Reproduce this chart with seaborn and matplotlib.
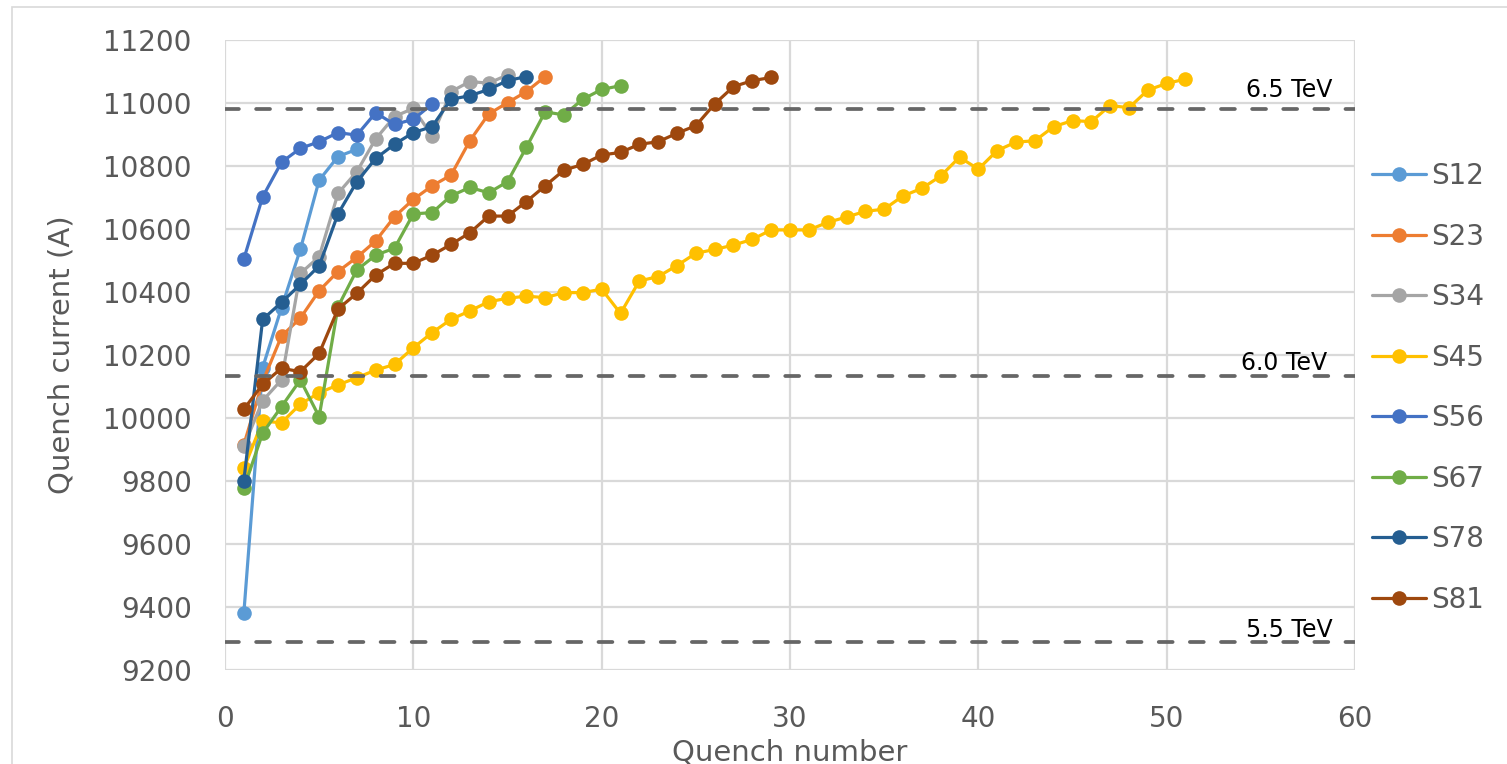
import matplotlib
matplotlib.use("Agg")
import matplotlib.pyplot as plt
from matplotlib.lines import Line2D
from matplotlib.patches import Rectangle
import seaborn as sns
import pandas as pd

# ---------------- data ----------------
sectors = ["S12", "S23", "S34", "S45", "S56", "S67", "S78", "S81"]
S12 = [9380, 10160, 10350, 10535, 10755, 10830, 10853]
S23 = [9915, 10115, 10260, 10317, 10404, 10465, 10510, 10562, 10639, 10694, 10737,
       10771, 10880, 10965, 11001, 11036, 11084]
S34 = [9910, 10055, 10121, 10459, 10512, 10713, 10782, 10886, 10957, 10983, 10895,
       11036, 11068, 11063, 11089]
S45 = [9840, 9990, 9985, 10044, 10080, 10105, 10128, 10152, 10170, 10223, 10271,
       10313, 10340, 10369, 10380, 10387, 10382, 10398, 10398, 10409, 10332, 10435,
       10449, 10484, 10523, 10535, 10549, 10567, 10597, 10597, 10597, 10621, 10638,
       10656, 10663, 10705, 10729, 10768, 10828, 10790, 10849, 10876, 10880, 10925,
       10944, 10941, 10992, 10985, 11041, 11062, 11076]
S56 = [10505, 10702, 10812, 10856, 10877, 10906, 10898, 10969, 10932, 10948, 10997]
S67 = [9777, 9952, 10036, 10121, 10004, 10353, 10470, 10517, 10539, 10648, 10652,
       10705, 10732, 10715, 10750, 10859, 10972, 10962, 11012, 11043, 11055]
S78 = [9801, 10313, 10367, 10424, 10483, 10648, 10750, 10824, 10869, 10906, 10925,
       11012, 11023, 11043, 11071, 11084]
S81 = [10028, 10107, 10158, 10147, 10205, 10346, 10396, 10454, 10491, 10491, 10517,
       10551, 10588, 10641, 10641, 10687, 10737, 10787, 10805, 10835, 10843, 10869,
       10877, 10904, 10928, 10997, 11052, 11071, 11081]

energy_labels = ["6.5 TeV", "6.0 TeV", "5.5 TeV"]
energy_currents = [10981, 10133, 9289]

x_ticks = [0, 10, 20, 30, 40, 50, 60]
y_ticks = [9200, 9400, 9600, 9800, 10000, 10200, 10400, 10600, 10800, 11000, 11200]

colors = ["#5B9BD5", "#ED7D31", "#A5A5A5", "#FFC000", "#4472C4", "#70AD47",
          "#255E91", "#9E480E"]

# ---------------- build long dataframe ----------------
series = [S12, S23, S34, S45, S56, S67, S78, S81]
rows = []
for name, vals in zip(sectors, series):
    for i, v in enumerate(vals, start=1):
        rows.append({"Quench": i, "Current": v, "Sector": name})
df = pd.DataFrame(rows)
palette = dict(zip(sectors, colors))

# ---------------- figure ----------------
sns.set_theme(style="white")
plt.rcParams["font.family"] = ["DejaVu Sans"]

fig = plt.figure(figsize=(15.07, 7.64), dpi=100)
ax = fig.add_axes([225 / 1507, 1 - 670 / 764, (1355 - 225) / 1507, (670 - 40) / 764])

sns.lineplot(data=df, x="Quench", y="Current", hue="Sector", hue_order=sectors,
             palette=palette, marker="o", markersize=10.5, markeredgewidth=0,
             linewidth=2.3, legend=False, sort=False, ax=ax, zorder=3)

# reference energy lines
for lab, cur in zip(energy_labels, energy_currents):
    ax.axhline(cur, color="#666666", linewidth=2.7, linestyle=(0, (3.7, 4.6)),
               dash_capstyle="round", zorder=5)

ax.text(58.8, 11019, energy_labels[0], ha="right", va="baseline", fontsize=17, color="black", zorder=6)
ax.text(58.5, 10152, energy_labels[1], ha="right", va="baseline", fontsize=17, color="black", zorder=6)
ax.text(58.8, 9305, energy_labels[2], ha="right", va="baseline", fontsize=17, color="black", zorder=6)

ax.set_xlim(0, 60)
ax.set_ylim(9200, 11200)
ax.set_xticks(x_ticks)
ax.set_yticks(y_ticks)
ax.set_xticklabels([str(t) for t in x_ticks])
ax.set_yticklabels([str(t) for t in y_ticks])
ax.grid(True, color="#d9d9d9", linewidth=1.6, zorder=0)
ax.set_axisbelow(True)
for s in ax.spines.values():
    s.set_visible(False)
ax.tick_params(axis="both", length=0, labelsize=20, colors="#595959")
ax.tick_params(axis="x", pad=25)
ax.tick_params(axis="y", pad=24)

ax.set_xlabel("Quench number", fontsize=21, color="#595959", labelpad=4)
ax.set_ylabel("Quench current (A)", fontsize=21, color="#595959", labelpad=20)

# legend
handles = [Line2D([0], [0], color=c, linewidth=2.3, marker="o", markersize=10.5,
                  markeredgewidth=0) for c in colors]
leg = ax.legend(handles, sectors, loc="center left", bbox_to_anchor=(1.0, 0.448),
                frameon=False, fontsize=20, labelcolor="#595959",
                handlelength=1.95, handletextpad=0.2, labelspacing=1.17,
                borderaxespad=0.2, borderpad=0.4)

# chart-area border
fig.patches.append(Rectangle((12 / 1507, -0.1), 1.2, 0.991 + 0.1,
                             transform=fig.transFigure, fill=False,
                             edgecolor="#d9d9d9", linewidth=1.2))

fig.savefig("out.png", dpi=100)
